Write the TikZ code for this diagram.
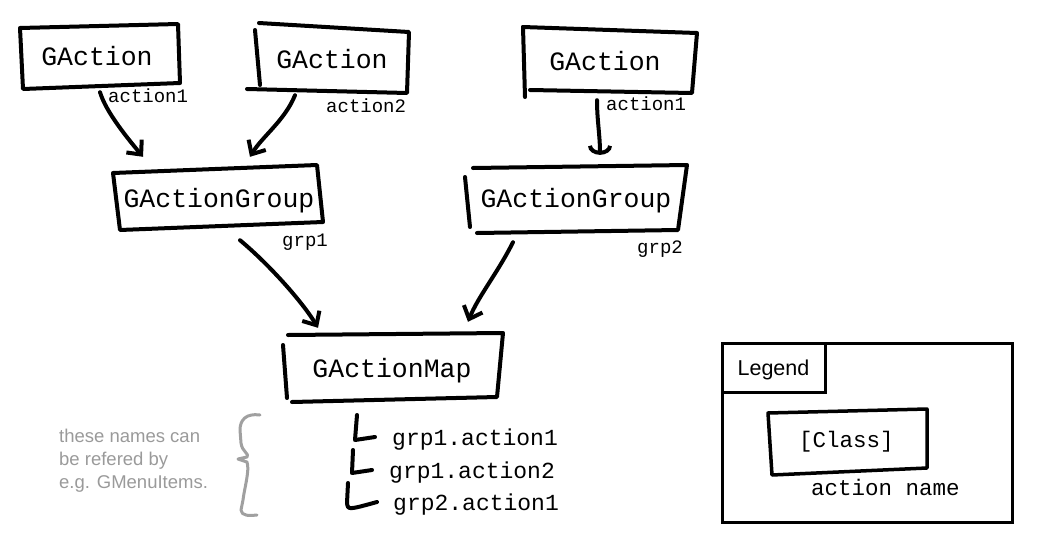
\documentclass[tikz,border=0pt]{standalone}
\usepackage{fontspec}
\setmainfont{Liberation Sans}
\newfontfamily\monofont{Liberation Mono}
\usetikzlibrary{arrows.meta,calc}
\definecolor{ink}{HTML}{000000}
\definecolor{note}{HTML}{9A9A9A}
\definecolor{brace}{HTML}{A0A0A0}
\tikzset{cls/.style={font=\monofont\fontsize{26.5}{30}\selectfont,inner sep=0pt,
  minimum height=62pt,text height=17.5pt,text depth=0pt},
  lbl/.style={font=\monofont\fontsize{19}{22}\selectfont,inner sep=0pt,
  anchor=west,text height=13.3pt,text depth=0pt},
  item/.style={font=\monofont\fontsize{23}{26}\selectfont,inner sep=0pt,
  anchor=west,text height=16.1pt,text depth=0pt},
  sketch/.style={draw=ink,line width=4pt,line join=round,line cap=round},
  flow/.style={-{Straight Barb[length=11pt,width=20pt]},line width=4pt,
  line cap=round,line join=round,draw=ink}}

\begin{document}
\begin{tikzpicture}[x=1pt,y=-1pt]
\useasboundingbox (0,0) rectangle (1037,552);
% hand drawn boxes
\draw[sketch] (20,28)--(178,24)--(180,83)--(23,89)--cycle;
\draw[sketch] (259,23)--(409,32)--(407,93)--(247,89);
\draw[sketch] (255,30)--(260,85);
\draw[sketch] (523,27)--(697,33)--(692,93)--(530,90);
\draw[sketch] (523,27)--(525,97);
\draw[sketch] (113,173)--(317,165)--(323,222)--(120,230)--cycle;
\draw[sketch] (473,168)--(687,165)--(678,230)--(477,233);
\draw[sketch] (465,177)--(470,227);
\draw[sketch] (288,335)--(503,333)--(497,397)--(292,402);
\draw[sketch] (283,345)--(287,398);
% classes
\node[cls] (ga1) at (97,57) {GAction};
\node[cls] (ga2) at (332,60) {GAction};
\node[cls] (ga3) at (605,62) {GAction};
\node[cls] (gg1) at (219,199) {GActionGroup};
\node[cls] (gg2) at (576,199) {GActionGroup};
\node[cls] (gmap) at (392,369) {GActionMap};
% names
\node[lbl] (a1) at (108,96) {action1};
\node[lbl] (a2) at (326,106) {action2};
\node[lbl] (a3) at (606,104) {action1};
\node[lbl] (g1) at (282,240) {grp1};
\node[lbl] (g2) at (637,247) {grp2};
% arrows
\draw[flow] ($(ga1.south)+(3,4)$) .. controls +(6,20) and +(-15,-18) .. ($(gg1.north)+(-76,-11)$);
\draw[flow] ($(ga2.south)+(-37,4)$) .. controls +(-10,25) and +(12,-20) .. ($(gg1.north)+(31,-11)$);
\draw[-{Arc Barb[length=9pt,width=24pt]},line width=4pt,line cap=round]
  ($(ga3.south)+(-8,7)$) .. controls +(0,20) and +(0,-20) .. ($(gg2.north)+(24,-13)$);
\draw[flow] ($(gg1.south)+(21,10)$) .. controls +(30,25) and +(-15,-25) .. ($(gmap.north)+(-74,-10)$);
\draw[flow] ($(gg2.south)+(-63,12)$) .. controls +(-15,30) and +(10,-25) .. ($(gmap.north)+(76,-16)$);
% resulting names
\node[item] (n1) at (392,437) {grp1.action1};
\node[item] (n2) at (389,470) {grp1.action2};
\node[item] (n3) at (393,502) {grp2.action1};
\draw[sketch] (357,415)--(355,440)--(n1.west-|375,0);
\draw[sketch] (353,450)--(352,473)--(n2.west-|372,0);
\draw[sketch] (348,483)--(347,503) .. controls (348,510) .. (n3.west-|377,0);
% note
\draw[brace,line width=3pt,line cap=round,line join=round]
  (260,415) .. controls (246,413) and (240,420) .. (240,430) -- (241,443)
  .. controls (242,452) and (250,454) .. (247,457) -- (238,459) -- (247,462)
  .. controls (250,470) and (244,490) .. (243,500) -- (241,510)
  .. controls (241,516) and (250,516) .. (257,515);
\foreach \t [count=\i] in {these names can,be refered by,e.g. GMenuItems.}
  \node[anchor=base west,inner sep=0pt,text=note,font=\fontsize{18.5}{22}\selectfont]
    (t\i) at (59,419+23*\i) {\t};
% legend
\draw[line width=3pt] (722,343) rectangle (1012,522);
\node[draw=ink,line width=3pt,minimum width=103pt,minimum height=49pt,inner sep=0pt,
  font=\fontsize{21.5}{24}\selectfont,text height=15.5pt,text depth=0pt] (lg) at (773.5,367.5) {Legend};
\draw[sketch,line width=3.5pt] (768,413)--(927,409)--(927,468)--(772,475)--cycle;
\node[font=\monofont\fontsize{22.5}{26}\selectfont,inner sep=0pt,text height=14.9pt,text depth=0pt]
  (lc) at (846.5,440) {[Class]};
\node[font=\monofont\fontsize{22.5}{26}\selectfont,inner sep=0pt,text height=15.8pt,text depth=0pt]
  (ln) at (885.5,488) {action name};
\end{tikzpicture}
\end{document}
